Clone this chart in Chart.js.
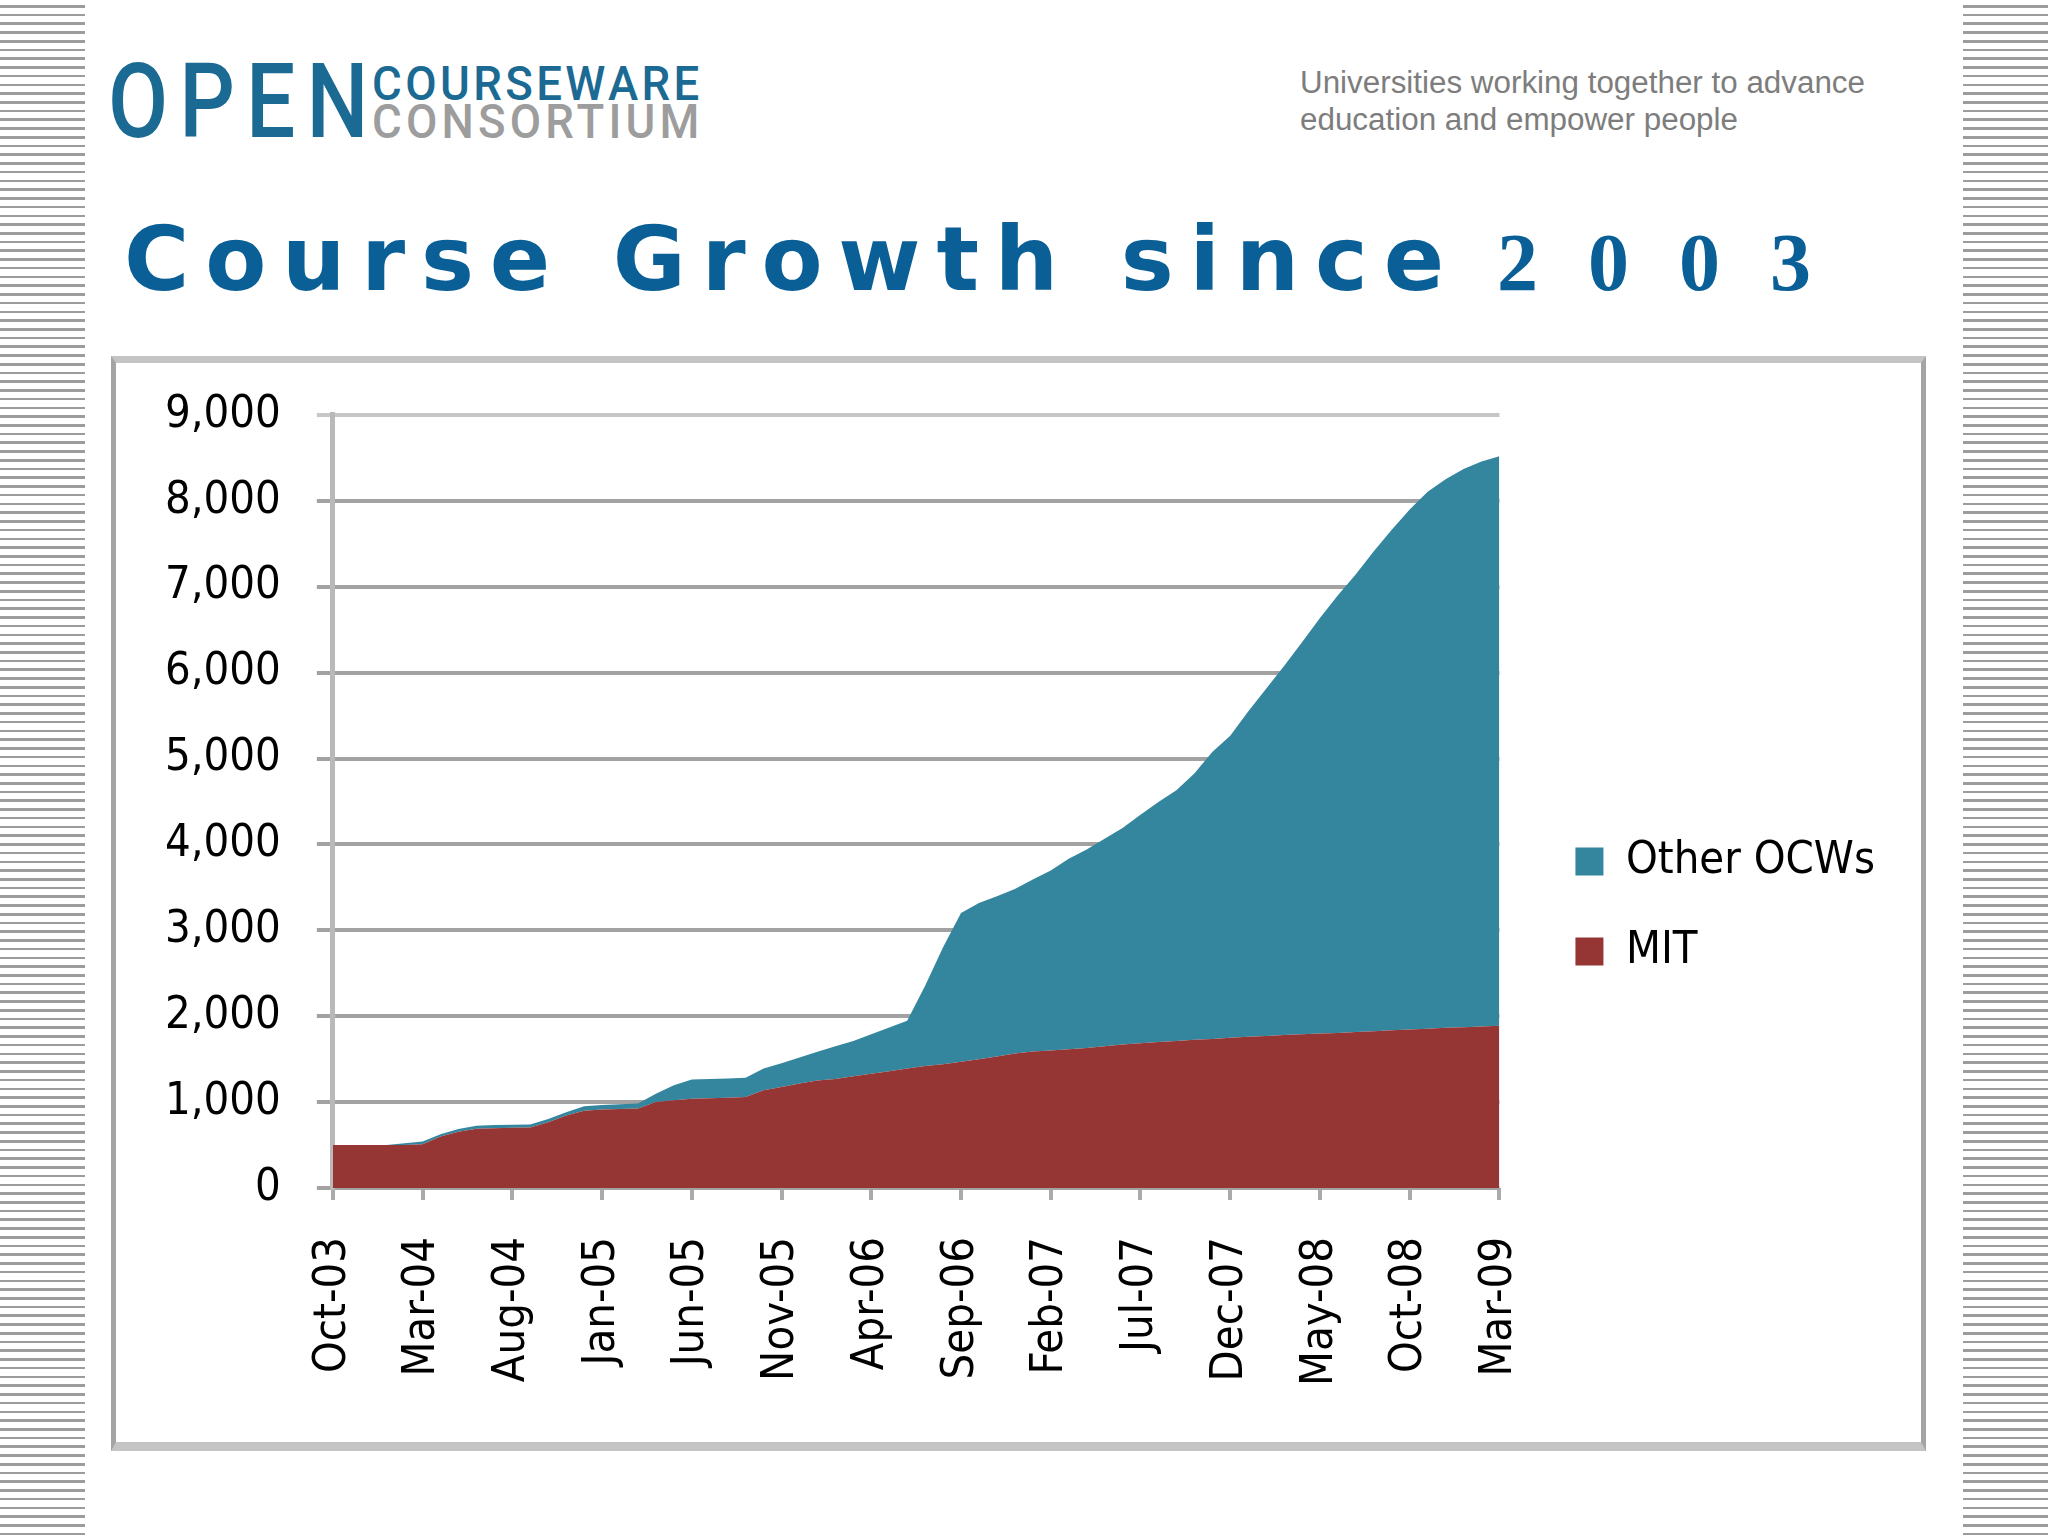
<!DOCTYPE html>
<html>
<head>
<meta charset="utf-8">
<script src="https://cdn.jsdelivr.net/npm/chart.js@4.4.1/dist/chart.umd.min.js"></script>
<style>
  html, body { margin: 0; padding: 0; background: #ffffff; }
  body { width: 2048px; height: 1536px; position: relative; overflow: hidden; }
  .stripes {
    position: absolute; top: 0; width: 85px; height: 1536px;
    background-image: repeating-linear-gradient(to bottom,
      rgba(255,255,255,0) 0px, rgba(255,255,255,0) 5px,
      #9c9c9c 5px, #9c9c9c 7.6px,
      rgba(255,255,255,0) 7.6px, rgba(255,255,255,0) 8.73px);
  }
  #header { position: absolute; left: 0; top: 0; }
  #frame {
    position: absolute; left: 111px; top: 356px; width: 1805px; height: 1079px;
    border-style: solid; border-width: 7px 5px 9px 5px;
    border-color: #c4c4c4 #a4a4a4 #c4c4c4 #a4a4a4; background: #ffffff;
  }
  #chartBox { position: absolute; left: 0; top: 0; width: 1805px; height: 1079px; }
</style>
</head>
<body>
<div class="stripes" style="left:0"></div>
<div class="stripes" style="left:1963px"></div>

<svg id="header" width="2048" height="320" xmlns="http://www.w3.org/2000/svg">
  <text transform="translate(108,137) scale(0.84,1)" x="0" y="0" font-family="Roboto, 'Liberation Sans', sans-serif" font-weight="500" font-size="104" fill="#1b6a93" textLength="310" lengthAdjust="spacing">OPEN</text>
  <text transform="translate(372,100) scale(0.93,1)" x="0" y="0" font-family="Roboto, 'Liberation Sans', sans-serif" font-weight="500" font-size="49" fill="#1b6a93" textLength="352" lengthAdjust="spacing">COURSEWARE</text>
  <text transform="translate(372,138) scale(0.93,1)" x="0" y="0" font-family="Roboto, 'Liberation Sans', sans-serif" font-weight="500" font-size="49" fill="#9d9d9d" textLength="352" lengthAdjust="spacing">CONSORTIUM</text>
  <text x="1300" y="93" font-family="'Liberation Sans', Arial, sans-serif" font-size="31" fill="#7d7d7d" textLength="565" lengthAdjust="spacingAndGlyphs">Universities working together to advance</text>
  <text x="1300" y="130" font-family="'Liberation Sans', Arial, sans-serif" font-size="31" fill="#7d7d7d" textLength="438" lengthAdjust="spacingAndGlyphs">education and empower people</text>
  <text x="124" y="290" font-family="'DejaVu Sans', sans-serif" font-weight="bold" font-size="89" fill="#0a5f97" textLength="1320" lengthAdjust="spacing">Course Growth since</text>
  <text x="1497" y="290" font-family="'Liberation Serif', 'Times New Roman', serif" font-weight="bold" font-size="82" fill="#0a5f97" textLength="314" lengthAdjust="spacing">2003</text>
</svg>

<div id="frame"><div id="chartBox"><canvas id="chart"></canvas></div></div>

<script>
// ---- Data ----
const months = ['Oct-03','Nov-03','Dec-03','Jan-04','Feb-04','Mar-04','Apr-04','May-04','Jun-04','Jul-04',
  'Aug-04','Sep-04','Oct-04','Nov-04','Dec-04','Jan-05','Feb-05','Mar-05','Apr-05','May-05',
  'Jun-05','Jul-05','Aug-05','Sep-05','Oct-05','Nov-05','Dec-05','Jan-06','Feb-06','Mar-06',
  'Apr-06','May-06','Jun-06','Jul-06','Aug-06','Sep-06','Oct-06','Nov-06','Dec-06','Jan-07',
  'Feb-07','Mar-07','Apr-07','May-07','Jun-07','Jul-07','Aug-07','Sep-07','Oct-07','Nov-07',
  'Dec-07','Jan-08','Feb-08','Mar-08','Apr-08','May-08','Jun-08','Jul-08','Aug-08','Sep-08',
  'Oct-08','Nov-08','Dec-08','Jan-09','Feb-09','Mar-09'];

const tickLabels = ['Oct-03','Mar-04','Aug-04','Jan-05','Jun-05','Nov-05','Apr-06',
  'Sep-06','Feb-07','Jul-07','Dec-07','May-08','Oct-08','Mar-09'];

const mitCourses = [500,500,500,500,500,510,600,655,690,695,
  700,705,765,843,900,915,920,925,1000,1020,
  1040,1045,1050,1060,1137,1176,1216,1250,1270,1300,
  1330,1360,1390,1420,1440,1470,1500,1530,1565,1590,
  1600,1615,1630,1650,1670,1685,1700,1710,1725,1735,
  1750,1760,1770,1780,1790,1800,1805,1815,1825,1835,
  1845,1855,1865,1870,1880,1890];

const otherCourses = [0,0,0,0,20,30,27,31,35,38,
  35,35,39,39,53,50,55,60,98,176,
  223,225,225,222,255,275,302,335,380,412,
  460,508,556,934,1362,1732,1819,1867,1917,2001,
  2096,2218,2312,2416,2521,2661,2794,2920,3100,3341,
  3515,3787,4042,4296,4563,4835,5095,5332,5587,5830,
  6055,6251,6388,6500,6579,6628];

const yTicks = [0,1000,2000,3000,4000,5000,6000,7000,8000,9000];

// ---- Chart ----
const FONT = "'DejaVu Sans Condensed', 'Liberation Sans', Arial, sans-serif";
const TXT = '#000000';

new Chart(document.getElementById('chart'), {
  type: 'line',
  data: {
    labels: months,
    datasets: [
      { label: 'MIT', data: mitCourses, fill: 'origin',
        backgroundColor: '#963634', borderColor: '#963634', borderWidth: 0, pointRadius: 0 },
      { label: 'Other OCWs', data: otherCourses, fill: '-1',
        backgroundColor: '#34869f', borderColor: '#34869f', borderWidth: 0, pointRadius: 0 }
    ]
  },
  options: {
    responsive: true,
    maintainAspectRatio: false,
    animation: false,
    devicePixelRatio: 1,
    layout: { padding: { left: 13, top: 27, right: 36, bottom: 19 } },
    elements: { line: { tension: 0 }, point: { radius: 0 } },
    plugins: {
      legend: {
        position: 'right',
        reverse: true,
        maxWidth: 460,
        labels: { boxWidth: 28, boxHeight: 28, padding: 45, color: TXT,
                  font: { family: FONT, size: 45 } }
      },
      tooltip: { enabled: false },
      title: { display: false }
    },
    scales: {
      x: {
        type: 'category',
        offset: false,
        border: { display: false },
        grid: {
          drawOnChartArea: false, drawTicks: true, tickLength: 12, lineWidth: 4,
          color: c => (tickLabels.includes(months[c.index]) ? '#aaaaaa' : 'rgba(0,0,0,0)')
        },
        ticks: {
          autoSkip: false, minRotation: 90, maxRotation: 90, padding: 37,
          color: TXT, font: { family: FONT, size: 45 },
          callback: (v, i) => (tickLabels.includes(months[i]) ? months[i] : '')
        }
      },
      y: {
        stacked: true,
        min: 0, max: 9000,
        afterBuildTicks: s => { s.ticks = yTicks.map(v => ({ value: v })); },
        border: { display: true, color: '#b9b9b9', width: 5 },
        grid: {
          tickLength: 16, lineWidth: 4,
          color: c => (c.tick && c.tick.value === 9000 ? '#c6c6c6' : '#a2a2a2')
        },
        ticks: {
          padding: 36, color: TXT, font: { family: FONT, size: 45, lineHeight: 0.71 },
          callback: v => v.toLocaleString('en-US')
        }
      },
      gap: {
        type: 'linear', position: 'right', display: true,
        grid: { display: false, drawTicks: false },
        border: { display: false },
        ticks: { display: false },
        afterFit: s => { s.width = 31; }
      }
    }
  }
});
</script>
</body>
</html>
